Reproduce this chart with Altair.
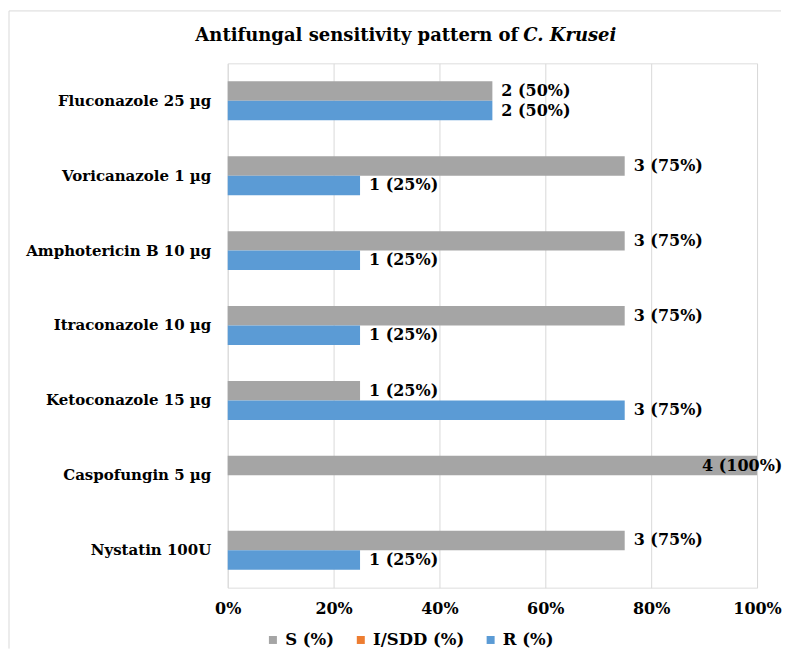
import altair as alt
import pandas as pd

drugs = ["Fluconazole 25 µg", "Voricanazole 1 µg", "Amphotericin B 10 µg",
         "Itraconazole 10 µg", "Ketoconazole 15 µg", "Caspofungin 5 µg", "Nystatin 100U"]
s_counts = [2, 3, 3, 3, 1, 4, 3]
s_pct = [50, 75, 75, 75, 25, 100, 75]
r_counts = [2, 1, 1, 1, 3, 0, 1]
r_pct = [50, 25, 25, 25, 75, 0, 25]
series_names = ["S (%)", "I/SDD (%)", "R (%)"]
series_colors = ["#A5A5A5", "#ED7D31", "#5B9BD5"]
x_ticks = [0, 0.2, 0.4, 0.6, 0.8, 1.0]
title_main = "Antifungal sensitivity pattern of"
title_species = "C. Krusei"

rows = []
for d, c, p in zip(drugs, s_counts, s_pct):
    rows.append({"drug": d, "series": "S (%)", "count": c, "pct": p / 100,
                 "label": f"{c} ({p}%)"})
for d, c, p in zip(drugs, r_counts, r_pct):
    rows.append({"drug": d, "series": "R (%)", "count": c, "pct": p / 100,
                 "label": f"{c} ({p}%)"})
df = pd.DataFrame(rows)

FONT = "DejaVu Serif"

y_enc = alt.Y("drug:N", sort=drugs, title=None,
              scale=alt.Scale(domain=drugs, paddingInner=0.48, paddingOuter=0.24),
              axis=alt.Axis(domain=False, ticks=False, grid=False, labelFont=FONT,
                            labelFontSize=15, labelFontWeight="bold", labelColor="#000000",
                            labelPadding=17, labelLimit=300))
x_enc = alt.X("pct:Q", title=None,
              scale=alt.Scale(domain=[0, 1], nice=False),
              axis=alt.Axis(values=x_ticks, format=".0%", domain=False, ticks=False,
                            grid=True, gridColor="#D9D9D9", labelFont=FONT,
                            labelFontSize=16, labelFontWeight="bold", labelColor="#000000",
                            labelPadding=13, labelFlush=False))
yoff = alt.YOffset("series:N", scale=alt.Scale(domain=["S (%)", "R (%)"],
                                                  paddingInner=0, paddingOuter=0))

bars = alt.Chart(df).transform_filter("datum.count > 0").mark_bar().encode(
    x=x_enc, y=y_enc, yOffset=yoff,
    color=alt.Color("series:N",
                    scale=alt.Scale(domain=series_names, range=series_colors),
                    legend=alt.Legend(orient="none", legendX=37, legendY=569,
                                      direction="horizontal", title=None,
                                      symbolType="square", symbolSize=64,
                                      labelFont=FONT, labelFontSize=16.5,
                                      labelFontWeight="bold", labelColor="#000000",
                                      columnPadding=18, labelOffset=4))
)

text_style = dict(font=FONT, fontSize=16, fontWeight="bold", color="#000000",
                  baseline="middle", align="left")
labels = alt.Chart(df).transform_filter("datum.count > 0 && datum.pct < 1").mark_text(
    dx=9, **text_style).encode(
    x="pct:Q", y=alt.Y("drug:N", sort=drugs), yOffset=yoff, text="label:N")
labels_full = alt.Chart(df).transform_filter("datum.count > 0 && datum.pct >= 1").mark_text(
    dx=-55, **text_style).encode(
    x="pct:Q", y=alt.Y("drug:N", sort=drugs), yOffset=yoff, text="label:N")

t1 = alt.Chart(pd.DataFrame({"t": [title_main]})).mark_text(
    font=FONT, fontSize=18, fontWeight="bold", color="#000000",
    align="right", baseline="middle").encode(
    x=alt.value(291), y=alt.value(-27), text="t:N")
t2 = alt.Chart(pd.DataFrame({"t": [title_species]})).mark_text(
    font=FONT, fontSize=18, fontWeight="bold", fontStyle="italic", color="#000000",
    align="left", baseline="middle").encode(
    x=alt.value(296), y=alt.value(-27), text="t:N")

border_left = alt.Chart(pd.DataFrame({"a": [0]})).mark_rule(
    color="#D9D9D9", strokeWidth=1).encode(
    x=alt.value(-219), y=alt.value(-52.5), y2=alt.value(586))
border_top = alt.Chart(pd.DataFrame({"a": [0]})).mark_rule(
    color="#D9D9D9", strokeWidth=1).encode(
    x=alt.value(-219), x2=alt.value(554), y=alt.value(-52.5))

chart = alt.layer(border_left, border_top, bars, labels, labels_full, t1, t2).properties(
    width=530, height=525,
    padding={"left": 0, "top": 2, "right": 0, "bottom": 0}
).configure_view(stroke=None).configure(background="#FFFFFF")

chart.save("out.html", embed_options={"renderer": "svg", "actions": False})
